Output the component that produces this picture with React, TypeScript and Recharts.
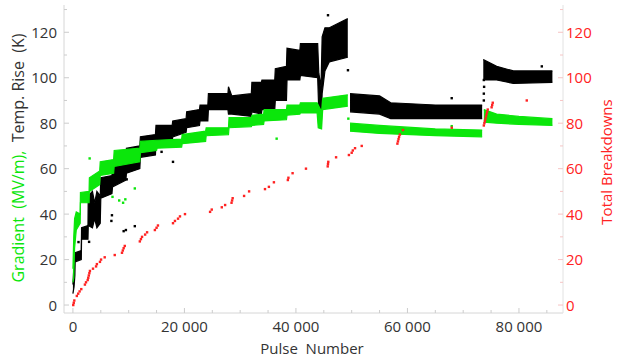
import React from 'react'
import { ComposedChart, Area, Scatter, XAxis, YAxis } from 'recharts'

const BLACK_PULSE = [0, 200, 350, 400, 1500, 1550, 2700, 2750, 3500, 3900, 4300, 4900, 5000, 7000, 7100, 9500, 9600, 12000, 12100, 14800, 14900, 17800, 17900, 20300, 20400, 22700, 22800, 24200, 24300, 27800, 27900, 28500, 32000, 32100, 33800, 33900, 36200, 36300, 38300, 38400, 40700, 40800, 43900, 44100, 44500, 44700, 45200, 46000, 49300, 49500, 49700, 55000, 57000, 65000, 73400, 73500, 73600, 76000, 79000, 86000]
const BLACK_LO = [5, 8, 13, 19, 20, 29, 29, 35, 34, 38, 34, 36, 47, 49, 52, 55, 58, 60, 65, 66, 72, 72, 74, 76, 78, 79, 81, 81, 86, 86, 84, 84, 83, 85, 84, 86, 86, 90, 90, 99, 99, 101, 100, 85, 79, 93, 103, 107, 109, null, 85, 84, 82, 82, 82, null, 99, 99, 97.5, 98]
const BLACK_HI = [9, 18, 22, 23, 24, 34, 35, 48, 50, 45, 50, 48, 56, 57, 61, 63, 69, 70, 74, 75, 79, 79, 81, 82, 85, 86, 88, 88, 93, 93, 96, 92, 93, 98, 98, 99, 99, 104, 105, 113, 112, 115, 115, 102, 96, 118, 122, 122, 126, null, 93, 92, 89, 88, 88, null, 108, 105, 103, 103]

const GREEN_PULSE = [0, 150, 300, 600, 1300, 1350, 2900, 2950, 4800, 4900, 7300, 7400, 12000, 12100, 15000, 15100, 19500, 19600, 23800, 23900, 27900, 28000, 32000, 32100, 34200, 34300, 38300, 38400, 40700, 40800, 43800, 44000, 44600, 44800, 49300, 49500, 49700, 55000, 65000, 73400, 73500, 73700, 76000, 80000, 86000]
const GREEN_LO = [10, 12, 25, 33, 36, 45, 45, 50, 53, 57, 58, 61, 63, 67, 68, 69, 69.5, 71, 72, 74.5, 75, 78, 78.5, 79, 79.5, 81, 81.5, 83.5, 84, 84.5, 84.5, 78, 77.5, 86, 87.5, null, 76.5, 75.5, 74.5, 74, null, 80.5, 80, 79.5, 79]
const GREEN_HI = [16, 30, 38, 41, 40, 49.5, 50, 56, 59, 63, 64, 68, 69, 72, 72.5, 72.5, 73, 75, 76.5, 78, 78, 82.5, 82.5, 83.5, 84, 86, 86, 88, 88, 89, 89, 88, 85, 91, 92.5, null, 80, 79, 77.5, 77, null, 86, 84, 83, 82]

// stray points outside the bands
const BLACK_OUT_PULSE = [1000, 2900, 6900, 7000, 9100, 9500, 9650, 11100, 15900, 17950, 45750, 49330, 67940, 73700, 73700, 73750, 73700, 84100]
const BLACK_OUT_VAL = [27.7, 27.8, 37, 39.5, 32.5, 33, 55.3, 34.7, 67.4, 63, 127.5, 103.3, 91, 90, 93, 96, 99, 105]
const GREEN_OUT_PULSE = [3000, 7100, 8300, 9000, 9400, 11100, 36540, 49400, 67940]
const GREEN_OUT_VAL = [64.5, 47.6, 46, 45, 46.5, 51.3, 73.2, 82, 78.7]

// total breakdowns
const BD_PULSE = [60, 150, 250, 700, 950, 1200, 1500, 2150, 2350, 2650, 2750, 2850, 2950, 3050, 3600, 4150, 4300, 4850, 5050, 5700, 7500, 8800, 8950, 9100, 9300, 12000, 12200, 12400, 12950, 13300, 14700, 15000, 15250, 17950, 18300, 18850, 19200, 20100, 24600, 24900, 26700, 27300, 28450, 28550, 28650, 30700, 31600, 34450, 35150, 36050, 38550, 38650, 39400, 41800, 45700, 45750, 45800, 47200, 49500, 50000, 50200, 50600, 51800, 58200, 58300, 58400, 58500, 58650, 59200, 67950, 73700, 73800, 73900, 74000, 74100, 74200, 74300, 74400, 75100, 75200, 75300, 81400]
const BD_COUNT = [0, 1, 2, 4, 5, 6, 7, 9, 10, 11, 12, 13, 14, 15, 16, 17, 18, 19, 20, 21, 22, 23, 24, 25, 26, 28, 29, 30, 31, 32, 33, 34, 35, 36, 37, 38, 39, 40, 41, 42, 43, 44, 45, 46, 47, 48, 50, 51, 52, 54, 55, 56, 58, 60, 61, 62, 63, 65, 66, 67, 68, 69, 70, 71, 72, 73, 74, 75, 77, 78, 79, 80, 81, 82, 83, 84, 85, 86, 87, 88, 89, 90]

const X_TICKS = [0, 5000, 10000, 15000, 20000, 25000, 30000, 35000, 40000, 45000, 50000, 55000, 60000, 65000, 70000, 75000, 80000, 85000]
const Y_TICKS = [0, 10, 20, 30, 40, 50, 60, 70, 80, 90, 100, 110, 120, 130]

const GREEN = '#0be60b'
const RED = '#ff2222'
const INK = '#333'
const FONT = '"Open Sans", sans-serif'

const band = (p: number[], lo: (number | null)[], hi: (number | null)[]) =>
  p.map((x, i) => ({ x, lo: lo[i], hi: hi[i] }))
const pts = (p: number[], v: number[]) => p.map((x, i) => ({ x, y: v[i] }))

const blackBand = band(BLACK_PULSE, BLACK_LO, BLACK_HI)
const greenBand = band(GREEN_PULSE, GREEN_LO, GREEN_HI)
const blackOut = pts(BLACK_OUT_PULSE, BLACK_OUT_VAL)
const greenOut = pts(GREEN_OUT_PULSE, GREEN_OUT_VAL)
const breakdowns = pts(BD_PULSE, BD_COUNT)

const rangeKey = (d: any) => (d.lo == null ? null : [d.lo, d.hi])
const fmt = (v: number) => String(v).replace(/\B(?=(\d{3})+(?!\d))/g, ' ')

const dot = (color: string) => (p: any) => (
  <rect x={p.cx - 1.2} y={p.cy - 1.2} width={2.4} height={2.4} fill={color} />
)

const XTick = (p: any) => {
  const v = p.payload.value
  const major = v % 20000 === 0
  return (
    <g>
      <line x1={p.x} x2={p.x} y1={p.y} y2={p.y - (major ? 5 : 3)} stroke="#ccc" />
      {major && <text x={p.x} y={p.y + 19} textAnchor="middle" fill={INK} fontSize={15} fontFamily={FONT}>{fmt(v)}</text>}
    </g>
  )
}
const LeftTick = (p: any) => {
  const v = p.payload.value
  const major = v % 20 === 0 && v <= 120
  return (
    <g>
      <line x1={p.x} x2={p.x + (major ? 5 : 3)} y1={p.y} y2={p.y} stroke="#ccc" />
      {major && <text x={p.x - 7} y={p.y + 5.5} textAnchor="end" fill={INK} fontSize={15} fontFamily={FONT}>{v}</text>}
    </g>
  )
}
const RightTick = (p: any) => {
  const v = p.payload.value
  const major = v % 20 === 0 && v <= 120
  return (
    <g>
      <line x1={p.x} x2={p.x - (major ? 5 : 3)} y1={p.y} y2={p.y} stroke="#f6c4c4" />
      {major && <text x={p.x + 3} y={p.y + 5.5} textAnchor="start" fill={RED} fontSize={15} fontFamily={FONT}>{v}</text>}
    </g>
  )
}

export default function App() {
  return (
    <div style={{ position: 'fixed', left: 0, top: 0, width: 637, height: 363, background: '#fff' }}>
      <ComposedChart width={637} height={363} margin={{ top: 5, right: 0, bottom: 0, left: 0 }}>
        <XAxis dataKey="x" type="number" domain={[-1600, 87900]} ticks={X_TICKS} interval={0} allowDataOverflow
          height={50} tickSize={0} tickMargin={0} tick={<XTick />} axisLine={{ stroke: '#d6d6d6' }} tickLine={false} />
        <XAxis xAxisId="top" orientation="top" dataKey="x" type="number" domain={[-1600, 87900]} height={0}
          tick={false} tickLine={false} axisLine={{ stroke: '#e2e2e2' }} />
        <YAxis yAxisId="l" type="number" domain={[-3.5, 132]} ticks={Y_TICKS} interval={0} allowDataOverflow width={64}
          tickSize={0} tickMargin={0} tick={<LeftTick />} axisLine={{ stroke: '#d6d6d6' }} tickLine={false} />
        <YAxis yAxisId="r" orientation="right" type="number" domain={[-3.5, 132]} ticks={Y_TICKS} interval={0} allowDataOverflow width={74}
          tickSize={0} tickMargin={0} tick={<RightTick />} axisLine={{ stroke: '#e2e2e2' }} tickLine={false} />
        <Area yAxisId="l" data={blackBand} dataKey={rangeKey} type="linear" stroke="#000" strokeWidth={1.2}
          fill="#000" fillOpacity={1} dot={false} activeDot={false} isAnimationActive={false} />
        <Scatter yAxisId="l" data={blackOut} dataKey="y" shape={dot('#000')} isAnimationActive={false} />
        <Area yAxisId="l" data={greenBand} dataKey={rangeKey} type="linear" stroke={GREEN} strokeWidth={1.2}
          fill={GREEN} fillOpacity={1} dot={false} activeDot={false} isAnimationActive={false} />
        <Scatter yAxisId="l" data={greenOut} dataKey="y" shape={dot(GREEN)} isAnimationActive={false} />
        <Scatter yAxisId="r" data={breakdowns} dataKey="y" shape={dot(RED)} isAnimationActive={false} />
      </ComposedChart>
      <svg width={637} height={363} style={{ position: 'absolute', left: 0, top: 0, pointerEvents: 'none' }}>
        <text transform="translate(24,158) rotate(-90)" textAnchor="middle" fontSize={16} fontFamily={FONT} style={{ whiteSpace: 'pre' }}>
          <tspan fill={GREEN}>{'Gradient  (MV/m),  '}</tspan>
          <tspan fill={INK}>{'Temp. Rise  (K)'}</tspan>
        </text>
        <text x={312} y={354} textAnchor="middle" fontSize={15} fill={INK} fontFamily={FONT} style={{ whiteSpace: 'pre' }}>{'Pulse  Number'}</text>
        <text transform="translate(612,162) rotate(-90)" textAnchor="middle" fontSize={15} fill={RED} fontFamily={FONT}>Total Breakdowns</text>
      </svg>
    </div>
  )
}
